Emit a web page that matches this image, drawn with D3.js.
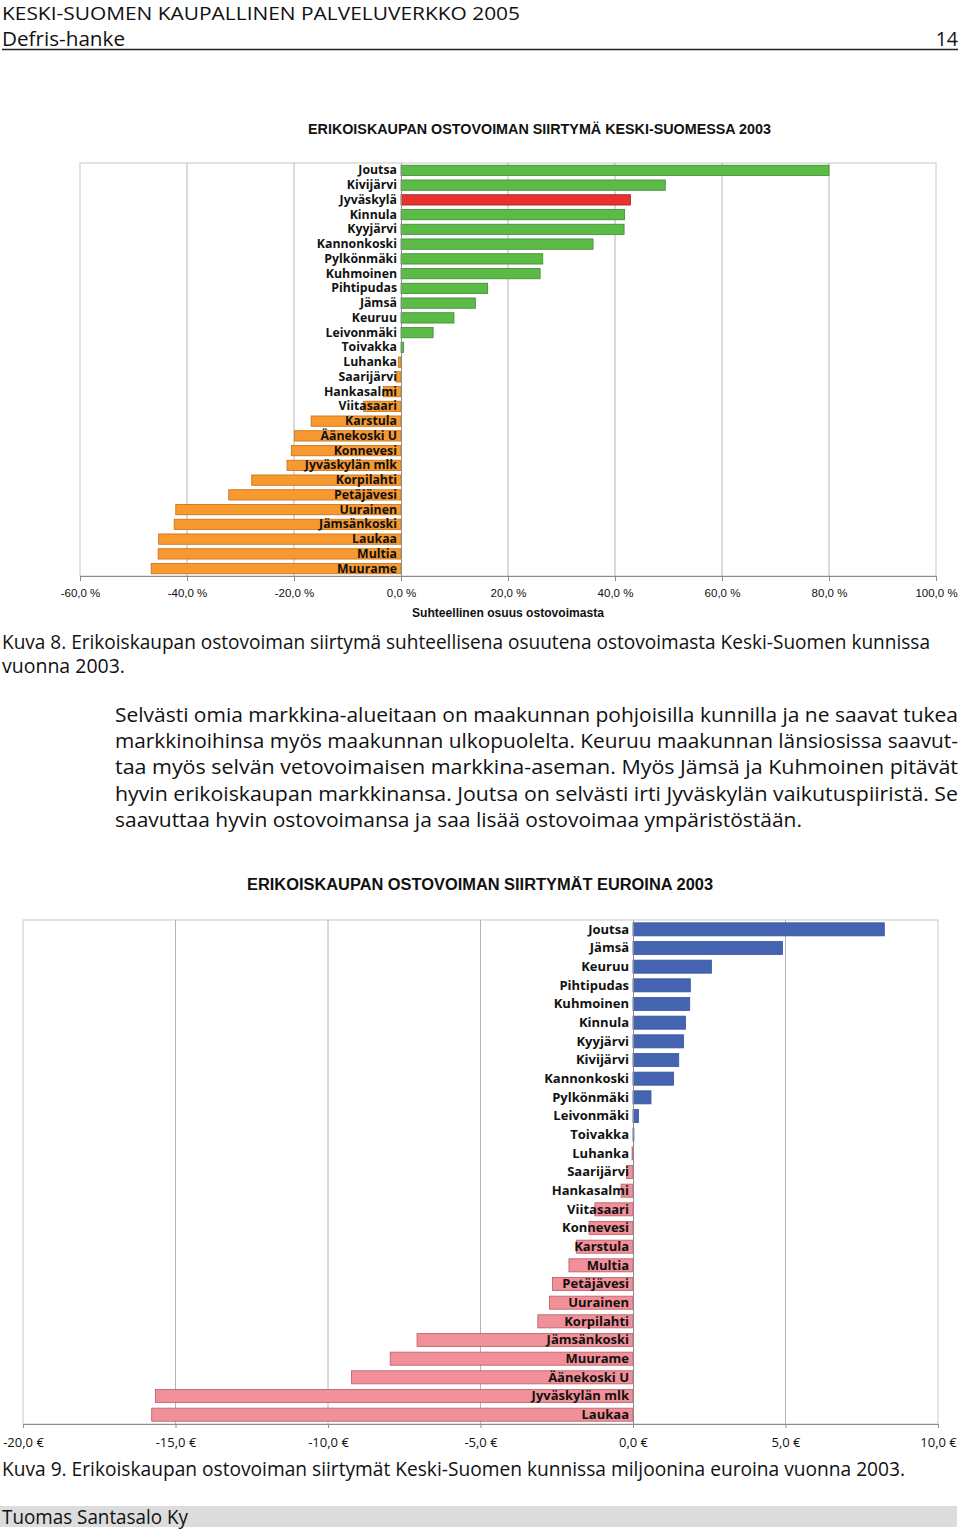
<!DOCTYPE html>
<html>
<head>
<meta charset="utf-8">
<title>Erikoiskaupan ostovoiman siirtymä</title>
<script src="https://d3js.org/d3.v7.min.js"></script>
<style>
  body { margin:0; background:#fff; }
  svg { display:block; }
  .page { font-family:"Open Sans", "Noto Sans", sans-serif; fill:#111; }
  .ctitle { font-family:"Liberation Sans", Arial, sans-serif; font-weight:bold; fill:#111; }
  .cat text { font-family:"Open Sans", "Noto Sans", sans-serif; font-weight:bold; fill:#111; }
  .grid line { stroke:#b4b4b4; stroke-width:1; }
  .frame { fill:none; stroke:#c8c8c8; stroke-width:1; }
</style>
</head>
<body>
<script>

// chart 1: share of purchasing power, %
var names1 = ["Joutsa","Kivijärvi","Jyväskylä","Kinnula","Kyyjärvi","Kannonkoski","Pylkönmäki",
  "Kuhmoinen","Pihtipudas","Jämsä","Keuruu","Leivonmäki","Toivakka","Luhanka","Saarijärvi",
  "Hankasalmi","Viitasaari","Karstula","Äänekoski U","Konnevesi","Jyväskylän mlk","Korpilahti",
  "Petäjävesi","Uurainen","Jämsänkoski","Laukaa","Multia","Muurame"];
var share1 = [80.0, 49.4, 42.9, 41.8, 41.7, 35.9, 26.5, 26.0, 16.2, 13.9, 9.9, 6.0, 0.5,
  -0.5, -0.9, -3.3, -7.0, -16.8, -19.9, -20.5, -21.3, -27.9, -32.2, -42.1, -42.4, -45.3, -45.4, -46.7];
var ticks1 = [-60, -40, -20, 0, 20, 40, 60, 80, 100];

// chart 2: transfer in million euros
var names2 = ["Joutsa","Jämsä","Keuruu","Pihtipudas","Kuhmoinen","Kinnula","Kyyjärvi","Kivijärvi",
  "Kannonkoski","Pylkönmäki","Leivonmäki","Toivakka","Luhanka","Saarijärvi","Hankasalmi",
  "Viitasaari","Konnevesi","Karstula","Multia","Petäjävesi","Uurainen","Korpilahti",
  "Jämsänkoski","Muurame","Äänekoski U","Jyväskylän mlk","Laukaa"];
var euro2 = [8.24, 4.9, 2.57, 1.88, 1.86, 1.72, 1.66, 1.5, 1.33, 0.59, 0.18, 0.03,
  -0.03, -0.21, -0.39, -1.25, -1.44, -1.86, -2.1, -2.64, -2.74, -3.12, -7.08, -7.96, -9.23, -15.66, -15.78];
var ticks2 = [-20, -15, -10, -5, 0, 5, 10];

var width = 960, height = 1531;

var fi = d3.formatLocale({decimal: ",", thousands: " ", grouping: [3], currency: ["", " €"], minus: "-"});
var f1 = fi.format(".1f");

var svg = d3.select("body").append("svg")
    .attr("width", width)
    .attr("height", height);

// ---- page text ----
function line(txt, x, y, size, len, anchor) {
  var t = svg.append("text")
      .attr("class", "page")
      .attr("x", x).attr("y", y)
      .style("font-size", size + "px")
      .attr("text-anchor", anchor || "start")
      .text(txt);
  if (len) t.attr("textLength", len).attr("lengthAdjust", "spacingAndGlyphs");
  return t;
}

line("KESKI-SUOMEN KAUPALLINEN PALVELUVERKKO 2005", 2, 20, 18.5, 518);
line("Defris-hanke", 2, 45.5, 19.5, 123);
line("14", 958, 45.5, 19.5, null, "end");
svg.append("line").attr("x1", 2).attr("x2", 958).attr("y1", 49.5).attr("y2", 49.5)
    .attr("stroke", "#222").attr("stroke-width", 1.5);

line("Kuva 8. Erikoiskaupan ostovoiman siirtymä suhteellisena osuutena ostovoimasta Keski-Suomen kunnissa", 2, 649, 19.5, 928);
line("vuonna 2003.", 2, 673, 19.5, 123);

var body = [
  ["Selvästi omia markkina-alueitaan on maakunnan pohjoisilla kunnilla ja ne saavat tukea", 843],
  ["markkinoihinsa myös maakunnan ulkopuolelta. Keuruu maakunnan länsiosissa saavut-", 843],
  ["taa myös selvän vetovoimaisen markkina-aseman. Myös Jämsä ja Kuhmoinen pitävät", 843],
  ["hyvin erikoiskaupan markkinansa. Joutsa on selvästi irti Jyväskylän vaikutuspiiristä. Se", 843],
  ["saavuttaa hyvin ostovoimansa ja saa lisää ostovoimaa ympäristöstään.", 687]
];
body.forEach(function (b, i) { line(b[0], 115, 722 + i * 26.2, 20, b[1]); });

line("Kuva 9. Erikoiskaupan ostovoiman siirtymät Keski-Suomen kunnissa miljoonina euroina vuonna 2003.", 2, 1476, 19.5, 903);

svg.append("rect").attr("x", 0).attr("y", 1506).attr("width", 957).attr("height", 21).attr("fill", "#dcdcdc");
line("Tuomas Santasalo Ky", 2, 1524, 19.5, 186);

// ---- chart 1 ----
var x1 = d3.scaleLinear().domain([-60, 100]).range([80, 936]);
var y1 = d3.scaleBand().domain(names1).range([163, 576]).paddingInner(0.3).paddingOuter(0.15);

var c1 = svg.append("g");

c1.append("text").attr("class", "ctitle")
    .attr("x", 539.5).attr("y", 134).attr("text-anchor", "middle")
    .style("font-size", "14px")
    .attr("textLength", 463).attr("lengthAdjust", "spacingAndGlyphs")
    .text("ERIKOISKAUPAN OSTOVOIMAN SIIRTYMÄ KESKI-SUOMESSA 2003");

c1.append("rect").attr("class", "frame")
    .attr("x", 80).attr("y", 163).attr("width", 856).attr("height", 413);

c1.append("g").attr("class", "grid")
    .selectAll("line")
    .data(ticks1.filter(function (d) { return d !== 0 && d > -60 && d < 100; }))
  .enter().append("line")
    .attr("x1", function (d) { return x1(d); })
    .attr("x2", function (d) { return x1(d); })
    .attr("y1", 163).attr("y2", 576);

c1.selectAll(".bar1")
    .data(names1)
  .enter().append("rect")
    .attr("class", "bar1")
    .attr("x", function (d, i) { return x1(Math.min(0, share1[i])); })
    .attr("y", function (d) { return y1(d); })
    .attr("width", function (d, i) { return Math.abs(x1(share1[i]) - x1(0)); })
    .attr("height", y1.bandwidth())
    .attr("fill", function (d, i) { return d === "Jyväskylä" ? "#e8322f" : share1[i] >= 0 ? "#5cba47" : "#f7992f"; })
    .attr("stroke", function (d, i) { return d === "Jyväskylä" ? "#a0201d" : share1[i] >= 0 ? "#3f8a33" : "#c46f16"; })
    .attr("stroke-width", 0.8);

var xa1 = c1.append("g")
    .attr("transform", "translate(0,576)")
    .call(d3.axisBottom(x1).tickValues(ticks1).tickSize(5).tickPadding(8)
      .tickFormat(function (d) { return f1(d) + " %"; }));
xa1.selectAll("path, line").attr("stroke", "#8c8c8c");
xa1.selectAll("text").attr("font-family", "Liberation Sans, Arial, sans-serif")
    .attr("font-size", "11.5px").attr("fill", "#111");

c1.append("text").attr("class", "ctitle")
    .attr("x", 508).attr("y", 617).attr("text-anchor", "middle")
    .style("font-size", "12px")
    .attr("textLength", 192).attr("lengthAdjust", "spacingAndGlyphs")
    .text("Suhteellinen osuus ostovoimasta");

var ya1 = c1.append("g").attr("class", "cat")
    .attr("transform", "translate(" + x1(0) + ",0)")
    .call(d3.axisLeft(y1).tickSize(0).tickPadding(4));
ya1.select(".domain").attr("stroke", "#8c8c8c");
ya1.selectAll("text").attr("font-size", "12.3px");

// ---- chart 2 ----
var x2 = d3.scaleLinear().domain([-20, 10]).range([23, 938]);
var y2 = d3.scaleBand().domain(names2).range([920, 1424]).paddingInner(0.3).paddingOuter(0.15);

var c2 = svg.append("g");

c2.append("text").attr("class", "ctitle")
    .attr("x", 480).attr("y", 890).attr("text-anchor", "middle")
    .style("font-size", "16px")
    .attr("textLength", 466).attr("lengthAdjust", "spacingAndGlyphs")
    .text("ERIKOISKAUPAN OSTOVOIMAN SIIRTYMÄT EUROINA 2003");

c2.append("rect").attr("class", "frame")
    .attr("x", 23).attr("y", 920).attr("width", 915).attr("height", 504);

c2.append("g").attr("class", "grid")
    .selectAll("line")
    .data(ticks2.filter(function (d) { return d !== 0 && d > -20 && d < 10; }))
  .enter().append("line")
    .attr("x1", function (d) { return x2(d); })
    .attr("x2", function (d) { return x2(d); })
    .attr("y1", 920).attr("y2", 1424);

c2.selectAll(".bar2")
    .data(names2)
  .enter().append("rect")
    .attr("class", "bar2")
    .attr("x", function (d, i) { return x2(Math.min(0, euro2[i])); })
    .attr("y", function (d) { return y2(d); })
    .attr("width", function (d, i) { return Math.abs(x2(euro2[i]) - x2(0)); })
    .attr("height", y2.bandwidth())
    .attr("fill", function (d, i) { return euro2[i] >= 0 ? "#4463b1" : "#f2909a"; })
    .attr("stroke", function (d, i) { return euro2[i] >= 0 ? "#3a56a0" : "#b85a62"; })
    .attr("stroke-width", 0.8);

var xa2 = c2.append("g")
    .attr("transform", "translate(0,1424)")
    .call(d3.axisBottom(x2).tickValues(ticks2).tickSize(4).tickPadding(10)
      .tickFormat(function (d) { return f1(d) + " €"; }));
xa2.selectAll("path, line").attr("stroke", "#8c8c8c");
xa2.selectAll("text").attr("font-family", "Open Sans, Noto Sans, sans-serif")
    .attr("font-size", "13px").attr("fill", "#111");

var ya2 = c2.append("g").attr("class", "cat")
    .attr("transform", "translate(" + x2(0) + ",0)")
    .call(d3.axisLeft(y2).tickSize(0).tickPadding(4));
ya2.select(".domain").attr("stroke", "#8c8c8c");
ya2.selectAll("text").attr("font-size", "13px");

</script>
</body>
</html>
